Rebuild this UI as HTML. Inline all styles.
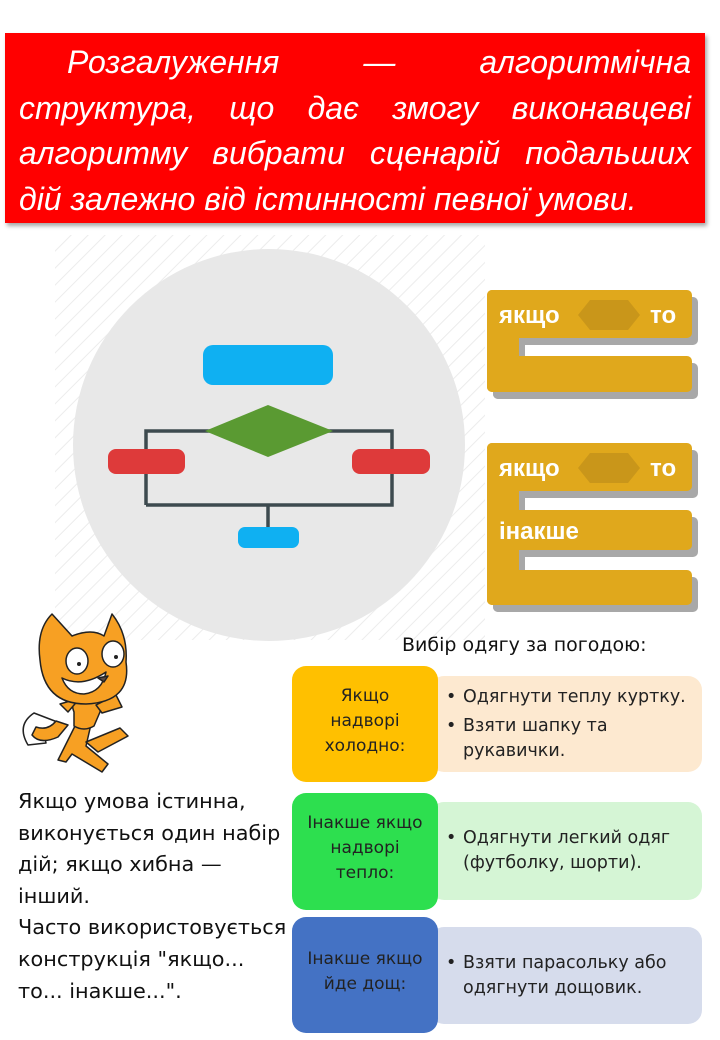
<!DOCTYPE html>
<html><head><meta charset="utf-8"><style>
body{margin:0;width:720px;height:1040px;background:#fff;position:relative;overflow:hidden;font-family:"DejaVu Sans","Liberation Sans",sans-serif}
.abs{position:absolute}
#title{left:5px;top:33px;width:700px;height:190px;background:#f00;box-shadow:2px 3px 4px rgba(0,0,0,.35);box-sizing:border-box;padding:7px 14px 0 14px;color:#fff;font-family:"Liberation Sans",sans-serif;font-style:italic;font-size:32px;line-height:45.5px;text-align:justify;text-align-last:left}
.lb{border-radius:14px;display:flex;align-items:center;justify-content:center;text-align:center;font-size:17px;line-height:25px;color:#222;padding-bottom:6px;box-sizing:border-box}
.rb{border-radius:14px;font-size:17.5px;line-height:25px;color:#222;box-sizing:border-box;padding-left:33px;padding-right:4px;display:flex;flex-direction:column;justify-content:center}
.rb div{position:relative}
.rb div:before{content:"•";position:absolute;left:-17px}
#lt{left:18px;top:786px;font-size:20.8px;line-height:31.6px;color:#111}
</style></head><body>
<div id="title" class="abs">&emsp;&ensp;Розгалуження — алгоритмічна структура, що дає змогу виконавцеві алгоритму вибрати сценарій подальших дій залежно від істинності певної умови.</div>

<svg class="abs" style="left:0;top:0" width="720" height="1040">
<defs><pattern id="h" width="12" height="12" patternUnits="userSpaceOnUse" patternTransform="rotate(45)"><line x1="0" y1="0" x2="0" y2="12" stroke="#ececec" stroke-width="2"/></pattern>
<g id="b1">
<rect x="487" y="290" width="205" height="48" rx="5"/>
<rect x="487" y="290" width="32" height="102" rx="5"/>
<rect x="487" y="356" width="205" height="36" rx="5"/>
</g>
<g id="b2">
<rect x="487" y="443" width="205" height="48" rx="5"/>
<rect x="487" y="443" width="32" height="162" rx="5"/>
<rect x="487" y="510" width="205" height="40" rx="5"/>
<rect x="487" y="570" width="205" height="35" rx="5"/>
</g>
</defs>
<rect x="55" y="235" width="430" height="405" fill="url(#h)"/>
<circle cx="269" cy="445" r="196" fill="#e8e8e8"/>
<g stroke="#3d4a4f" stroke-width="3.5" fill="none">
<polyline points="146,505 146,431 392,431 392,505 146,505"/>
<line x1="268" y1="505" x2="268" y2="527"/>
</g>
<rect x="203" y="345" width="130" height="40" rx="10" fill="#0fb0f2"/>
<polygon points="205,431 268,405 333,431 268,457" fill="#5a9a32"/>
<rect x="108" y="449" width="77" height="25" rx="8" fill="#de3a3a"/>
<rect x="352" y="449" width="78" height="25" rx="8" fill="#de3a3a"/>
<rect x="238" y="527" width="61" height="21" rx="7" fill="#0fb0f2"/>

<g fill="#a8a8a8" transform="translate(6,7)"><use href="#b1"/><use href="#b2"/></g>
<g fill="#e0a81c"><use href="#b1"/><use href="#b2"/></g>
<polygon points="578,315 590,300 628,300 640,315 628,330 590,330" fill="#c9961a"/>
<polygon points="578,468 590,453 628,453 640,468 628,483 590,483" fill="#c9961a"/>
<g fill="#fff" font-weight="bold" font-size="24" font-family="Liberation Sans,sans-serif">
<text x="499" y="323">якщо</text><text x="650" y="323">то</text>
<text x="499" y="476">якщо</text><text x="650" y="476">то</text>
<text x="499" y="539">інакше</text>
</g>

<g stroke="#222" stroke-width="1.5" stroke-linejoin="round">
<path d="M28,745 q-12,-20 6,-32 l26,10 q-18,8 -14,20z" fill="#fff"/>
<path d="M32,735 q8,10 26,2 l10,-12 -12,-4 q-8,10 -20,6z" fill="#f7a023"/>
<path d="M58,760 l20,-40 h14 l-6,26 22,18 -6,8 -30,-18 -6,8z" fill="#f7a023"/>
<path d="M86,742 l34,-14 8,8 -30,16z" fill="#f7a023"/>
<path d="M74,712 q-6,-14 14,-18 q16,2 12,18 l-6,14 q-10,6 -20,0z" fill="#f7a023"/>
<path d="M60,704 l20,-6 -12,14z" fill="#f7a023"/>
<path d="M96,705 l20,-10 6,12 -20,6z" fill="#f7a023"/>
<path d="M40,660 q-4,-30 12,-46 l20,22 q20,-8 32,0 l8,-22 q16,20 14,48 q6,40 -40,42 q-42,0 -46,-44z" fill="#f7a023"/>
<path d="M62,678 q20,10 44,-6 q-4,20 -22,22 q-16,0 -22,-16z" fill="#fff"/>
<ellipse cx="77" cy="661" rx="11" ry="13" fill="#fff"/>
<ellipse cx="113" cy="654" rx="11" ry="13" fill="#fff"/>
<path d="M98,678 l10,-2 -4,6z" fill="#5a4a42"/>
</g>
<circle cx="79" cy="664" r="2" fill="#222"/><circle cx="116" cy="657" r="2" fill="#222"/>
</svg>

<div id="lt" class="abs">Якщо умова істинна,<br>виконується один набір<br>дій; якщо хибна —<br>інший.<br>Часто використовується<br>конструкція "якщо...<br>то... інакше...".</div>

<div class="abs" style="left:402px;top:634px;font-size:19px;color:#111">Вибір одягу за погодою:</div>

<div class="abs rb" style="left:430px;top:676px;width:272px;height:96px;background:#fde9d0"><div>Одягнути теплу куртку.</div><div style="margin-top:4px">Взяти шапку та рукавички.</div></div>
<div class="abs lb" style="left:292px;top:666px;width:146px;height:116px;background:#ffc000">Якщо<br>надворі<br>холодно:</div>

<div class="abs rb" style="left:430px;top:802px;width:272px;height:98px;background:#d5f5d5"><div>Одягнути легкий одяг (футболку, шорти).</div></div>
<div class="abs lb" style="left:292px;top:793px;width:146px;height:117px;background:#2ddf4f">Інакше якщо<br>надворі<br>тепло:</div>

<div class="abs rb" style="left:430px;top:927px;width:272px;height:97px;background:#d6dcec"><div>Взяти парасольку або одягнути дощовик.</div></div>
<div class="abs lb" style="left:292px;top:917px;width:146px;height:116px;background:#4472c4">Інакше якщо<br>йде дощ:</div>
</body></html>
